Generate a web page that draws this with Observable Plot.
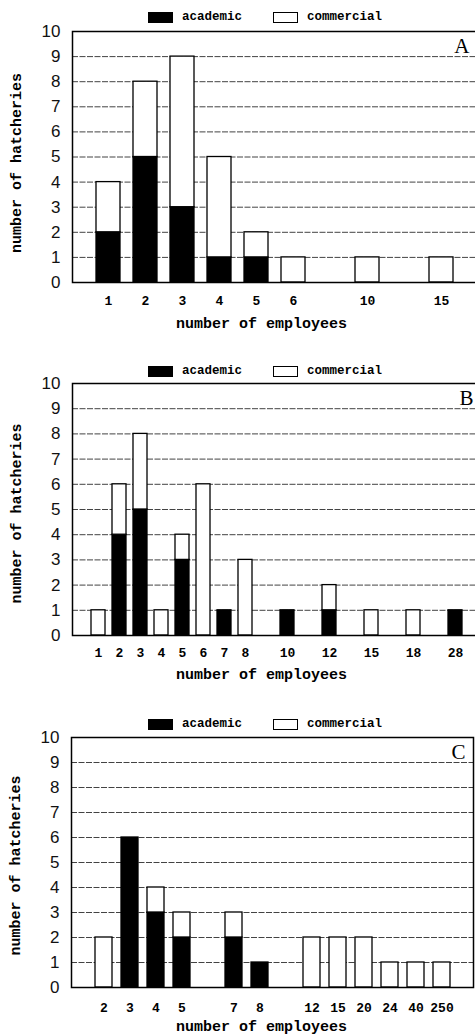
<!DOCTYPE html>
<html>
<head>
<meta charset="utf-8">
<script src="https://cdn.jsdelivr.net/npm/d3@7"></script>
<script src="https://cdn.jsdelivr.net/npm/@observablehq/plot@0.6"></script>
<style>
  html, body { margin: 0; padding: 0; background: white; }
  #wrap { position: relative; width: 475px; height: 1036px; overflow: hidden; background: white; }
  .panel { position: absolute; left: 0; }
  .legend { position: absolute; left: 148px; height: 14px; display: flex; align-items: center;
            font-family: "Liberation Mono", monospace; font-weight: bold; font-size: 12.5px; color: #000; }
  .item { display: flex; align-items: center; }
  .item:first-child { width: 125px; }
  .sw { width: 25px; height: 11px; box-sizing: border-box; margin-right: 9px; }
</style>
</head>
<body>
<div id="wrap"></div>
<script>
// ---- data ----
const types = ["academic", "commercial"];
const yTicks = [0, 1, 2, 3, 4, 5, 6, 7, 8, 9, 10];
const xLabel = "number of employees";
const yLabel = "number of hatcheries";

// Panel A
const employeesA = ["1", "2", "3", "4", "5", "6", "10", "15"];
const academicA = [2, 5, 3, 1, 1, 0, 0, 0];
const commercialA = [2, 3, 6, 4, 1, 1, 1, 1];
const slotsA = ["1", "2", "3", "4", "5", "6", "gapA1", "10", "gapA2", "15"];

// Panel B
const employeesB = ["1", "2", "3", "4", "5", "6", "7", "8", "10", "12", "15", "18", "28"];
const academicB = [0, 4, 5, 0, 3, 0, 1, 0, 1, 1, 0, 0, 1];
const commercialB = [1, 2, 3, 1, 1, 6, 0, 3, 0, 1, 1, 1, 0];
const slotsB = ["1", "2", "3", "4", "5", "6", "7", "8", "gapB1", "10", "gapB2", "12", "gapB3", "15", "gapB4", "18", "gapB5", "28"];

// Panel C
const employeesC = ["2", "3", "4", "5", "7", "8", "12", "15", "20", "24", "40", "250"];
const academicC = [0, 6, 3, 2, 2, 1, 0, 0, 0, 0, 0, 0];
const commercialC = [2, 0, 1, 1, 1, 0, 2, 2, 2, 1, 1, 1];
const slotsC = ["2", "3", "4", "5", "gapC1", "7", "8", "gapC2", "12", "15", "20", "24", "40", "250"];

// ---- layout ----
const panels = [
  {letter: "A", employees: employeesA, academic: academicA, commercial: commercialA, slots: slotsA,
   top: 0, width: 477, marginLeft: 72, marginTop: 31, plotH: 251, marginBottom: 60, tickPad: 13, labelDy: 41, yLabelDy: 6, legendTop: 10},
  {letter: "B", employees: employeesB, academic: academicB, commercial: commercialB, slots: slotsB,
   top: 352, width: 481, marginLeft: 72, marginTop: 31, plotH: 252, marginBottom: 60, tickPad: 12, labelDy: 39, yLabelDy: 4, legendTop: 364},
  {letter: "C", employees: employeesC, academic: academicC, commercial: commercialC, slots: slotsC,
   top: 705, width: 473, marginLeft: 71, marginTop: 32, plotH: 250, marginBottom: 49, tickPad: 15, labelDy: 39, yLabelDy: 3, legendTop: 717}
];

const wrap = document.getElementById("wrap");
const labelCenterX = 261;

for (const p of panels) {
  const rows = p.employees.flatMap((e, i) => [
    {emp: e, type: "academic", n: p.academic[i]},
    {emp: e, type: "commercial", n: p.commercial[i]}
  ]).filter(d => d.n > 0);

  const plotCenter = (p.marginLeft + p.width) / 2;
  const chart = Plot.plot({
    width: p.width,
    height: p.marginTop + p.plotH + p.marginBottom,
    marginLeft: p.marginLeft,
    marginRight: 0,
    marginTop: p.marginTop,
    marginBottom: p.marginBottom,
    style: {background: "white", maxWidth: "none", overflow: "visible"},
    x: {type: "band", domain: p.slots, paddingInner: 0.35, paddingOuter: 0.645},
    y: {domain: [0, 10]},
    color: {domain: types, range: ["black", "white"]},
    marks: [
      Plot.ruleY(yTicks.filter(t => t > 0 && t < 10), {stroke: "#222", strokeWidth: 1, strokeDasharray: "6,1.5", strokeOpacity: 0.85}),
      Plot.barY(rows, {x: "emp", y: "n", fill: "type", stroke: "black", strokeWidth: 1.3}),
      Plot.frame({stroke: "black", strokeWidth: 1.5}),
      Plot.axisY({ticks: yTicks, tickSize: 0, tickPadding: 12, fontSize: 17, fontFamily: "Liberation Sans", fill: "#111", label: null}),
      Plot.axisX({ticks: p.employees, tickSize: 0, tickPadding: p.tickPad, fontSize: 13, fontFamily: "Liberation Mono", fontWeight: "bold", fill: "#000", label: null}),
      Plot.text([xLabel], {text: d => d, frameAnchor: "bottom", dy: p.labelDy, dx: labelCenterX - plotCenter,
        textAnchor: "middle", lineAnchor: "middle",
        fontSize: 15, fontFamily: "Liberation Mono", fontWeight: "bold", fill: "#000"}),
      Plot.text([yLabel], {text: d => d, frameAnchor: "left", rotate: -90, dx: -56, dy: p.yLabelDy,
        textAnchor: "middle", lineAnchor: "middle",
        fontSize: 15, fontFamily: "Liberation Mono", fontWeight: "bold", fill: "#000"}),
      Plot.text([p.letter], {text: d => d, frameAnchor: "top-right", dx: -8, dy: 7, lineAnchor: "top", textAnchor: "end",
        fontSize: 21, fontFamily: "Liberation Serif", fill: "#000"})
    ]
  });
  const holder = document.createElement("div");
  holder.className = "panel";
  holder.style.top = p.top + "px";
  holder.appendChild(chart);
  wrap.appendChild(holder);

  const legend = document.createElement("div");
  legend.className = "legend";
  legend.style.top = p.legendTop + "px";
  legend.innerHTML = types.map((t, i) =>
    `<div class="item"><div class="sw" style="background:${i === 0 ? "#000" : "#fff"};border:1px solid #000"></div><span>${t}</span></div>`
  ).join("");
  wrap.appendChild(legend);
}
</script>
</body>
</html>
